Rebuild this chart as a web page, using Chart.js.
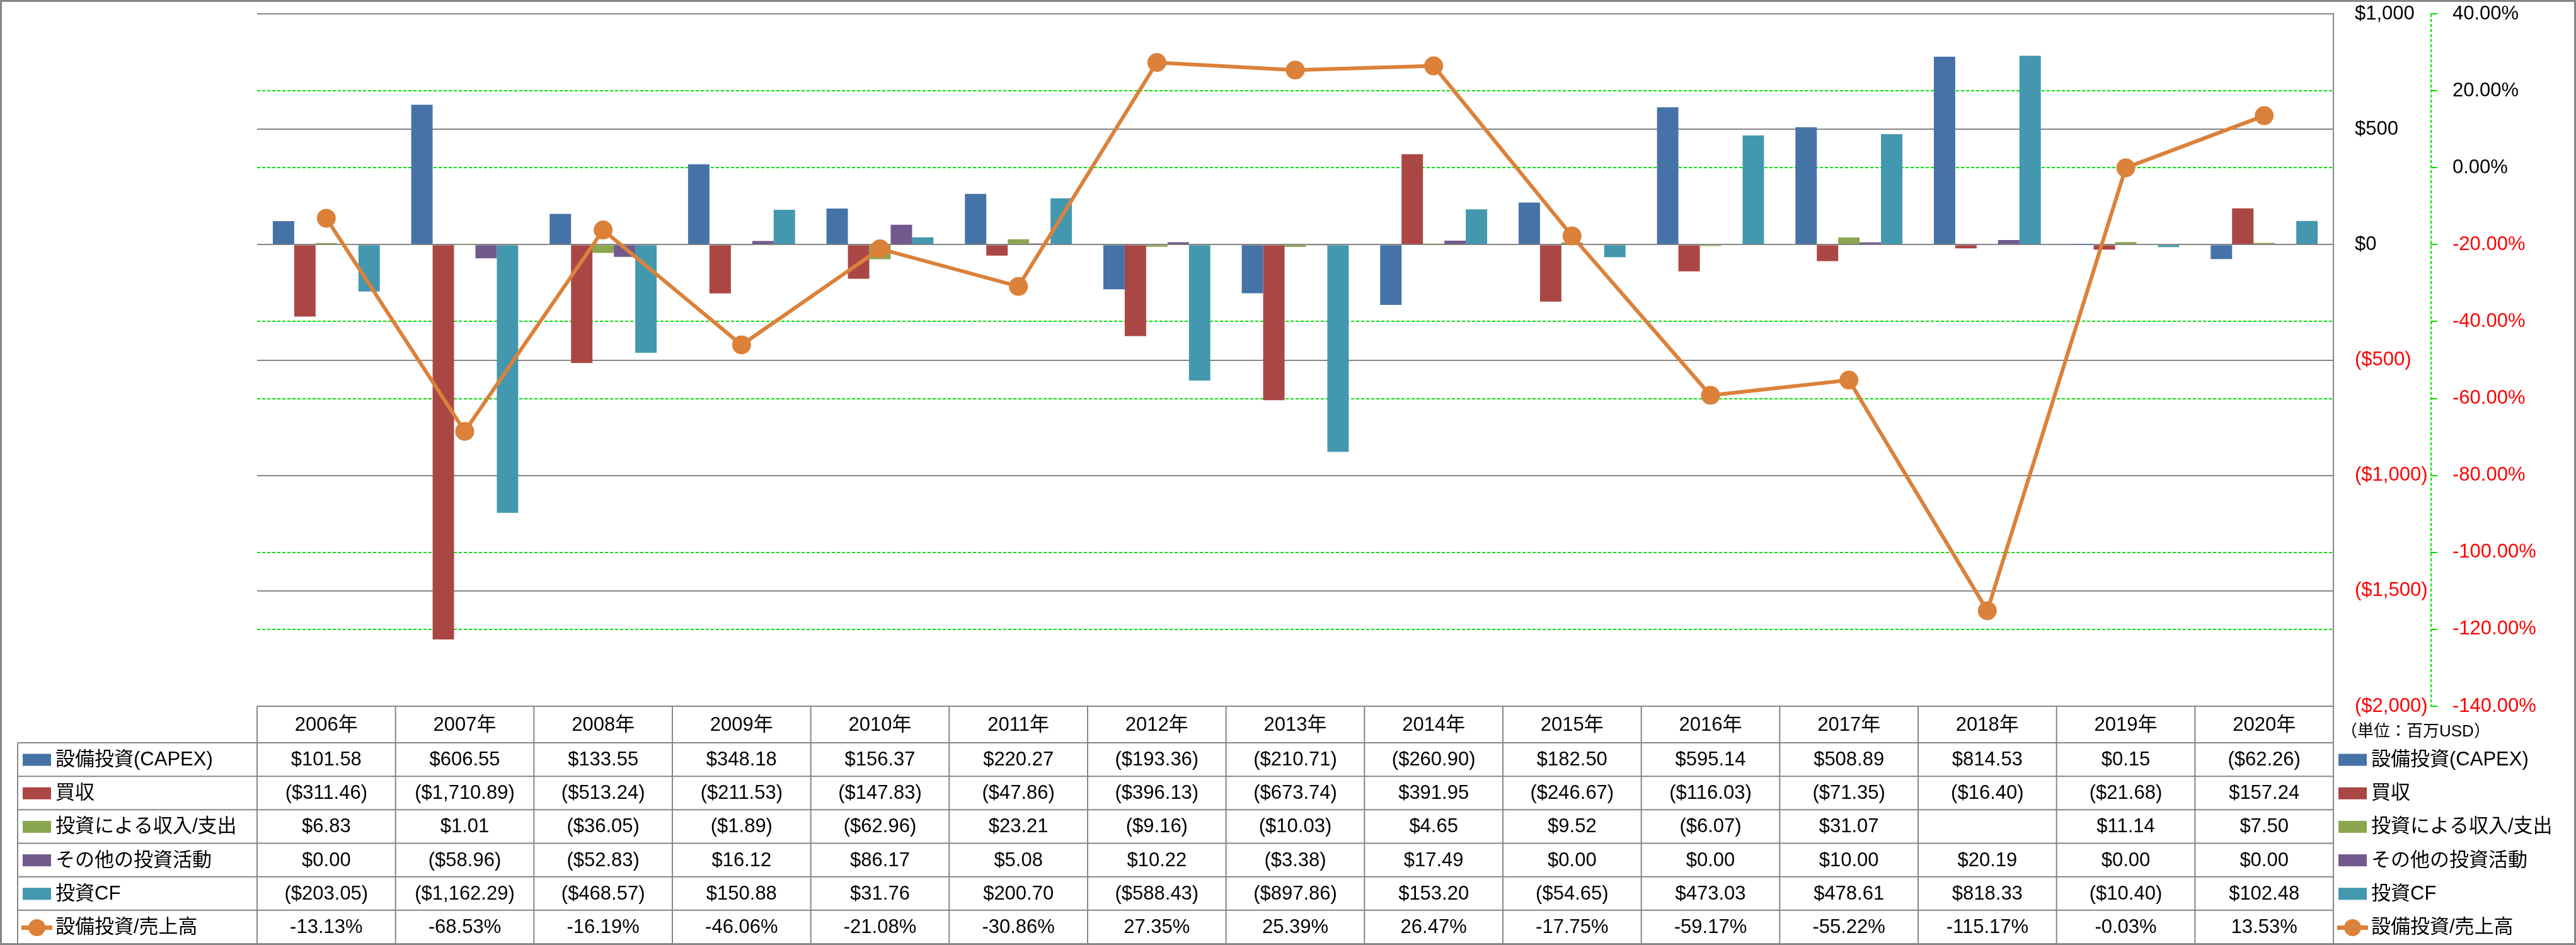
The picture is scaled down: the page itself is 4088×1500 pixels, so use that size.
<!DOCTYPE html>
<html>
<head>
<meta charset="utf-8">
<script src="https://cdn.jsdelivr.net/npm/chart.js@4.4.1/dist/chart.umd.min.js"></script>
<style>
html,body{margin:0;padding:0;background:#fff;}
canvas{display:block;}
</style>
</head>
<body>
<canvas id="c" width="4088" height="1500"></canvas>
<script>
// ---------- DATA ----------
const years = ['2006年','2007年','2008年','2009年','2010年','2011年','2012年','2013年','2014年','2015年','2016年','2017年','2018年','2019年','2020年'];
const capex   = [101.58, 606.55, 133.55, 348.18, 156.37, 220.27, -193.36, -210.71, -260.90, 182.50, 595.14, 508.89, 814.53, 0.15, -62.26];
const acquisitions = [-311.46, -1710.89, -513.24, -211.53, -147.83, -47.86, -396.13, -673.74, 391.95, -246.67, -116.03, -71.35, -16.40, -21.68, 157.24];
const investIncome = [6.83, 1.01, -36.05, -1.89, -62.96, 23.21, -9.16, -10.03, 4.65, 9.52, -6.07, 31.07, null, 11.14, 7.50];
const otherInvest  = [0.00, -58.96, -52.83, 16.12, 86.17, 5.08, 10.22, -3.38, 17.49, 0.00, 0.00, 10.00, 20.19, 0.00, 0.00];
const investCF     = [-203.05, -1162.29, -468.57, 150.88, 31.76, 200.70, -588.43, -897.86, 153.20, -54.65, 473.03, 478.61, 818.33, -10.40, 102.48];
const capexRatio   = [-13.13, -68.53, -16.19, -46.06, -21.08, -30.86, 27.35, 25.39, 26.47, -17.75, -59.17, -55.22, -115.17, -0.03, 13.53];

const seriesNames = ['設備投資(CAPEX)','買収','投資による収入/支出','その他の投資活動','投資CF','設備投資/売上高'];
const unitLabel = '（単位：百万USD）';
const moneyAxis = {min:-2000, max:1000, step:500};
const pctAxis = {min:-140, max:40, step:20};

// ---------- STYLE ----------
const colors = ['#4673A7','#AA4744','#8AA64F','#71598E','#4398AF','#DB813A'];
const FONT = "'Liberation Sans','Noto Sans CJK JP',Arial,sans-serif";
const GRAY = '#868686';
const GREEN = '#00E000';

function fmtMoney(v, dec){
  if (v === null || v === undefined) return '';
  const s = '$' + Math.abs(v).toLocaleString('en-US',{minimumFractionDigits:dec, maximumFractionDigits:dec});
  return v < 0 ? '(' + s + ')' : s;
}
function fmtPct(v){ return (v === null || v === undefined) ? '' : v.toFixed(2) + '%'; }

const barSeries = [capex, acquisitions, investIncome, otherInvest, investCF];

const datasets = barSeries.map((d,i)=>({
  type:'bar', label:seriesNames[i], data:d, yAxisID:'y',
  backgroundColor:colors[i], borderWidth:0, order:1,
  categoryPercentage:0.773, barPercentage:1.0
}));
datasets.push({
  type:'line', label:seriesNames[5], data:capexRatio, yAxisID:'y1',
  borderColor:colors[5], backgroundColor:colors[5], borderWidth:6,
  pointRadius:15, pointHoverRadius:15, pointBorderWidth:0, pointBackgroundColor:colors[5],
  tension:0, order:0
});

const tablePlugin = {
  id:'dataTable',
  afterDraw(chart){
    const ctx = chart.ctx, ca = chart.chartArea;
    const n = years.length, cw = (ca.right - ca.left)/n;
    const top = ca.bottom, hdrB = top + 58, bottom = 1498;
    const rowH = (bottom - hdrB)/6;
    const leftX = 28;
    ctx.save();
    // secondary axis dashed line
    const y1 = chart.scales.y1;
    ctx.strokeStyle = GREEN; ctx.lineWidth = 2; ctx.setLineDash([5,3]);
    ctx.beginPath(); ctx.moveTo(y1.left+1, ca.top); ctx.lineTo(y1.left+1, ca.bottom); ctx.stroke();
    ctx.setLineDash([]);

    // table lines
    ctx.strokeStyle = GRAY; ctx.lineWidth = 2;
    ctx.beginPath();
    ctx.moveTo(ca.left, top); ctx.lineTo(ca.right, top);
    for (let r=0; r<=6; r++){
      const y = hdrB + r*rowH;
      ctx.moveTo(leftX, y); ctx.lineTo(ca.right, y);
    }
    ctx.moveTo(leftX, hdrB); ctx.lineTo(leftX, bottom);
    for (let i=0; i<=n; i++){
      const x = ca.left + i*cw;
      ctx.moveTo(x, top); ctx.lineTo(x, bottom);
    }
    ctx.stroke();

    // header
    ctx.fillStyle = '#000';
    ctx.textAlign = 'center'; ctx.textBaseline = 'middle';
    ctx.font = '31px ' + FONT;
    for (let i=0;i<n;i++) ctx.fillText(years[i], ca.left + (i+0.5)*cw, (top+hdrB)/2 + 1);

    // rows
    const rows = barSeries.map(d=>d.map(v=>fmtMoney(v,2)));
    rows.push(capexRatio.map(fmtPct));
    for (let r=0;r<6;r++){
      const cy = hdrB + (r+0.5)*rowH + 1;
      ctx.font = '31px ' + FONT; ctx.textAlign = 'center'; ctx.fillStyle = '#000';
      for (let i=0;i<n;i++) ctx.fillText(rows[r][i], ca.left + (i+0.5)*cw, cy);
      // legend keys left and right
      [[36,88],[3711,3763]].forEach(([kx,tx])=>{
        if (r < 5){
          ctx.fillStyle = colors[r];
          ctx.fillRect(kx, cy-10, 45, 19);
        } else {
          ctx.strokeStyle = colors[5]; ctx.lineWidth = 7;
          ctx.beginPath(); ctx.moveTo(kx-2, cy); ctx.lineTo(kx+47, cy); ctx.stroke();
          ctx.fillStyle = colors[5];
          ctx.beginPath(); ctx.arc(kx+22.5, cy, 13.5, 0, Math.PI*2); ctx.fill();
        }
        ctx.fillStyle = '#000'; ctx.textAlign = 'left';
        ctx.font = '31px ' + FONT;
        ctx.fillText(seriesNames[r], tx, cy);
      });
    }
    // unit label
    ctx.font = '26px ' + FONT; ctx.textAlign = 'left'; ctx.fillStyle = '#000';
    ctx.fillText(unitLabel, 3715, 1162);

    // outer border
    ctx.strokeStyle = GRAY; ctx.lineWidth = 3;
    ctx.strokeRect(1.5, 1.5, 4085, 1497);
    ctx.restore();
  }
};

function fitRight(w){
  return function(s){ s.width = w; s.paddingTop = 0; s.paddingBottom = 0; };
}

new Chart(document.getElementById('c'), {
  type:'bar',
  data:{ labels:years, datasets },
  plugins:[tablePlugin],
  options:{
    responsive:false, animation:false, devicePixelRatio:1,
    layout:{ padding:{ left:408, top:22, right:31, bottom:379 } },
    plugins:{ legend:{display:false}, tooltip:{enabled:false} },
    scales:{
      x:{ display:false, offset:true },
      y:{
        position:'right', min:moneyAxis.min, max:moneyAxis.max,
        afterFit: fitRight(154),
        ticks:{
          stepSize:moneyAxis.step, padding:34,
          font:{family:FONT, size:31},
          color:(c)=> c.tick && c.tick.value < 0 ? '#FF0000' : '#000000',
          callback:(v)=>fmtMoney(v,0)
        },
        grid:{ color:GRAY, lineWidth:2, drawTicks:false, z:-1 },
        border:{ display:true, color:GRAY, width:2 }
      },
      y1:{
        position:'right', min:pctAxis.min, max:pctAxis.max,
        afterFit: fitRight(200),
        ticks:{
          stepSize:pctAxis.step, padding:24,
          font:{family:FONT, size:31},
          color:(c)=> c.tick && c.tick.value < 0 ? '#FF0000' : '#000000',
          callback:(v)=>fmtPct(v)
        },
        grid:{ color:GREEN, lineWidth:2, drawTicks:true, tickLength:11, tickColor:GREEN, z:-2 },
        border:{ display:false, dash:[5,3] }
      }
    }
  }
});
</script>
</body>
</html>
